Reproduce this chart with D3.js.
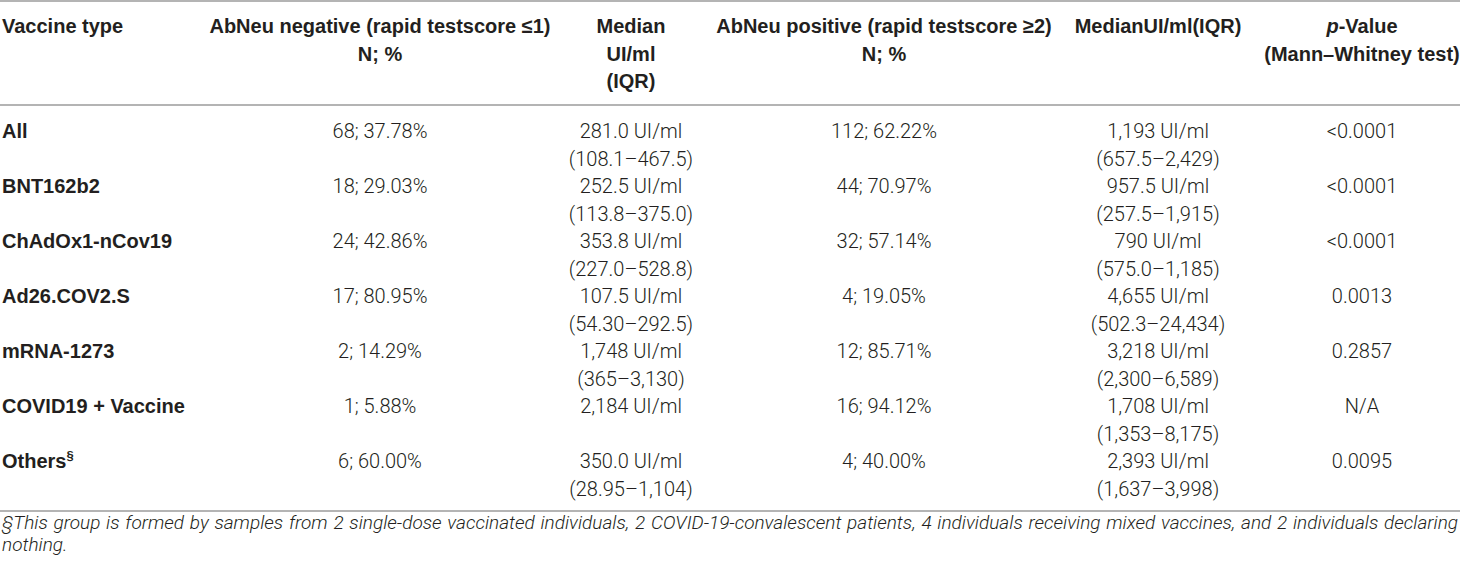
<!DOCTYPE html>
<html>
<head>
<meta charset="utf-8">
<title>AbNeu table</title>
<script src="https://cdn.jsdelivr.net/npm/d3@7/dist/d3.min.js"></script>
<style>
  html, body { margin: 0; padding: 0; background: #fff; }
  svg { display: block; }
  .hdr { font-family: "Liberation Sans", Arial, sans-serif; font-weight: bold; font-size: 20px; fill: #231f20; }
  .lbl { font-family: "Liberation Sans", Arial, sans-serif; font-weight: bold; font-size: 20px; fill: #231f20; }
  .cell { font-family: Roboto, "Liberation Sans", sans-serif; font-weight: 300; font-size: 20px; fill: #231f20; }
  .note { font-family: Roboto, "Liberation Sans", sans-serif; font-weight: 300; font-style: italic; font-size: 19px; fill: #231f20; }
</style>
</head>
<body>
<svg width="1460" height="568"></svg>
<script>
// header text, one entry per column, lines split
var headers = [
  ["Vaccine type"],
  ["AbNeu negative (rapid testscore \u22641)", "N; %"],
  ["Median", "UI/ml", "(IQR)"],
  ["AbNeu positive (rapid testscore \u22652)", "N; %"],
  ["MedianUI/ml(IQR)"],
  ["*p*-Value", "(Mann\u2013Whitney test)"]
];

var vaccineTypes = ["All", "BNT162b2", "ChAdOx1-nCov19", "Ad26.COV2.S", "mRNA-1273", "COVID19 + Vaccine", "Others"];
var negCount = ["68; 37.78%", "18; 29.03%", "24; 42.86%", "17; 80.95%", "2; 14.29%", "1; 5.88%", "6; 60.00%"];
var negMedian = ["281.0 UI/ml", "252.5 UI/ml", "353.8 UI/ml", "107.5 UI/ml", "1,748 UI/ml", "2,184 UI/ml", "350.0 UI/ml"];
var negIQR = ["(108.1\u2013467.5)", "(113.8\u2013375.0)", "(227.0\u2013528.8)", "(54.30\u2013292.5)", "(365\u20133,130)", "", "(28.95\u20131,104)"];
var posCount = ["112; 62.22%", "44; 70.97%", "32; 57.14%", "4; 19.05%", "12; 85.71%", "16; 94.12%", "4; 40.00%"];
var posMedian = ["1,193 UI/ml", "957.5 UI/ml", "790 UI/ml", "4,655 UI/ml", "3,218 UI/ml", "1,708 UI/ml", "2,393 UI/ml"];
var posIQR = ["(657.5\u20132,429)", "(257.5\u20131,915)", "(575.0\u20131,185)", "(502.3\u201324,434)", "(2,300\u20136,589)", "(1,353\u20138,175)", "(1,637\u20133,998)"];
var pValues = ["<0.0001", "<0.0001", "<0.0001", "0.0013", "0.2857", "N/A", "0.0095"];
var superMarks = ["", "", "", "", "", "", "\u00a7"];

var footnote = [
  "\u00a7This group is formed by samples from 2 single-dose vaccinated individuals, 2 COVID-19-convalescent patients, 4 individuals receiving mixed vaccines, and 2 individuals declaring",
  "nothing."
];

var W = 1460,
    left = 2,
    lineH = 27.5,
    colX = [left, 380, 631, 884, 1158, 1362];

var svg = d3.select('svg');

// row positions
var rowY = d3.scaleLinear().domain([0, 1]).range([138, 193]);

// rules
svg.selectAll('line.rule')
  .data([1, 105, 511])
  .enter().append('line')
  .attr('class', 'rule')
  .attr('x1', 0).attr('x2', W)
  .attr('y1', function(d) { return d; })
  .attr('y2', function(d) { return d; })
  .attr('stroke', '#9b9b9b')
  .attr('stroke-width', 1.6);

// header
headers.forEach(function(lines, c) {
  lines.forEach(function(s, i) {
    var t = svg.append('text')
      .attr('class', 'hdr')
      .attr('x', colX[c])
      .attr('y', 33 + i * lineH)
      .attr('text-anchor', c === 0 ? 'start' : 'middle');
    var m = s.match(/^\*(.+?)\*(.*)$/);
    if (m) {
      t.append('tspan').attr('font-style', 'italic').text(m[1]);
      t.append('tspan').text(m[2]);
    } else {
      t.text(s);
    }
  });
});

// body rows
var rows = vaccineTypes.map(function(v, i) {
  return {
    label: v, sup: superMarks[i],
    cells: [[negCount[i]], [negMedian[i], negIQR[i]], [posCount[i]], [posMedian[i], posIQR[i]], [pValues[i]]]
  };
});

var g = svg.selectAll('g.row')
  .data(rows)
  .enter().append('g')
  .attr('class', 'row')
  .attr('transform', function(d, i) { return 'translate(0,' + rowY(i) + ')'; });

var lbl = g.append('text')
  .attr('class', 'lbl')
  .attr('x', left)
  .attr('y', 0)
  .text(function(d) { return d.label; });
lbl.filter(function(d) { return d.sup; })
  .append('tspan')
  .attr('font-size', '13px')
  .attr('dy', -8)
  .text(function(d) { return d.sup; });

g.each(function(d) {
  var row = d3.select(this);
  d.cells.forEach(function(lines, c) {
    lines.forEach(function(s, k) {
      if (!s) return;
      row.append('text')
        .attr('class', 'cell')
        .attr('x', colX[c + 1])
        .attr('y', k * lineH)
        .attr('text-anchor', 'middle')
        .text(s);
    });
  });
});

// footnote, first line justified to full width
footnote.forEach(function(s, i) {
  var t = svg.append('text')
    .attr('class', 'note')
    .attr('x', left)
    .attr('y', 529 + i * 22)
    .text(s);
  if (i === 0) {
    var natural = t.node().getComputedTextLength(),
        gaps = s.split(' ').length - 1;
    t.attr('word-spacing', ((W - 2 - left - natural) / gaps).toFixed(2) + 'px');
  }
});
</script>
</body>
</html>
